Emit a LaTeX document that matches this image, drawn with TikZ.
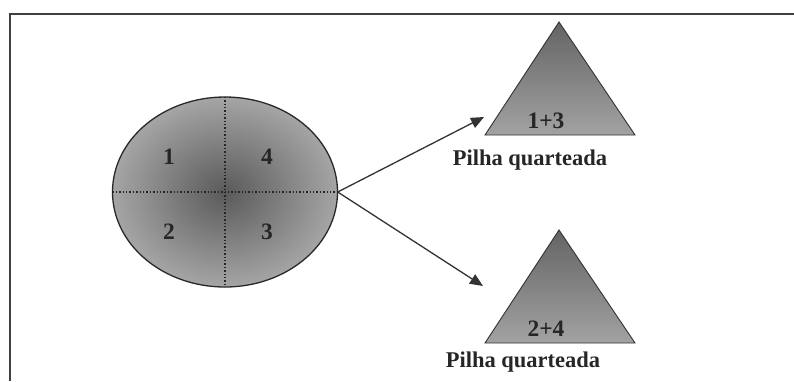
\documentclass[tikz,border=0pt]{standalone}
\usepackage{fontspec}
\setmainfont{Liberation Serif}
\usetikzlibrary{shapes.geometric,arrows.meta}
\definecolor{edgegray}{RGB}{40,40,40}
\definecolor{cdark}{RGB}{90,90,90}
\definecolor{clight}{RGB}{165,165,165}
\definecolor{tdark}{RGB}{100,100,100}
\definecolor{tlight}{RGB}{162,162,162}
\tikzset{
  lbl/.style={font=\bfseries\fontsize{23.5}{26}\selectfont, text=black!85, inner sep=0pt},
  caption text/.style={font=\bfseries\fontsize{22.5}{26}\selectfont, text=black!85, inner sep=0pt},
  conn/.style={draw=black!80, line width=1.3pt, -{Triangle[length=13pt,width=11pt]}},
  pile/.style={draw=black!80, line width=0.9pt, top color=tdark, bottom color=tlight},
}
\begin{document}
\begin{tikzpicture}[x=1pt,y=-1pt]
\useasboundingbox (0,0) rectangle (794,381);
% frame
\draw[black!75, line width=1.4pt] (10,381) -- (10,14) -- (794,14);
% ellipse
\node[ellipse, minimum width=225pt, minimum height=190pt, inner sep=0pt, draw=none] (pile) at (225,192) {};
\shade[inner color=cdark, outer color=clight] (225,192) ellipse [x radius=112.5, y radius=95];
\draw[edgegray, line width=1.3pt] (225,192) ellipse [x radius=112.5, y radius=95];
\draw[black!85, line width=1.4pt, dotted] (pile.west) -- (pile.east);
\draw[black!85, line width=1.4pt, dotted] (pile.north) -- (pile.south);
\node[lbl] (n1) at (169,157) {1};
\node[lbl] (n4) at (267,157) {4};
\node[lbl] (n2) at (169,232) {2};
\node[lbl] (n3) at (267,232) {3};
% triangles
\path[pile] (485,135) -- (559,22) -- (635,135) -- cycle;
\path[pile] (485,343) -- (559,230) -- (635,343) -- cycle;
\node[lbl] (t13) at (546,121) {1+3};
\node[lbl] (t24) at (546,329) {2+4};
\node[caption text] (c1) at (530,160) {Pilha quarteada};
\node[caption text] (c2) at (523,362) {Pilha quarteada};
% arrows
\coordinate (a1) at (484,117);
\coordinate (a2) at (483,286);
\draw[conn] (pile.east) -- (a1);
\draw[conn] (pile.east) -- (a2);
\end{tikzpicture}
\end{document}
